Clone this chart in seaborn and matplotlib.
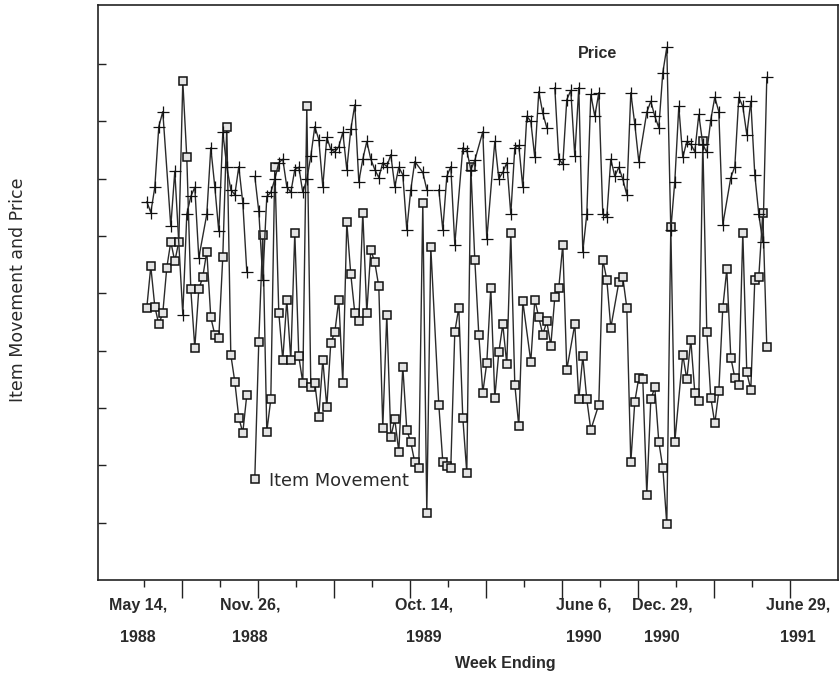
import numpy as np
import pandas as pd
import matplotlib
matplotlib.use("Agg")
import matplotlib.pyplot as plt
import seaborn as sns

# ---------------- data (weekly, week 0 = May 14, 1988) ----------------
item_weeks = (list(range(0, 72)) + list(range(73, 95)) + list(range(96, 106)) +
              list(range(107, 112)) + list(range(113, 117)) + list(range(118, 133)) +
              list(range(134, 156)))
item_values = [
    4.75, 5.47, 4.77, 4.46, 4.66, 5.45, 5.90, 5.56, 5.90, 8.70,
    7.37, 5.07, 4.05, 5.07, 5.29, 5.73, 4.58, 4.28, 4.23, 5.64,
    7.91, 3.93, 3.46, 2.83, 2.57, 3.23, np.nan,
    1.77, 4.16, 6.01, 2.59, 3.15, 7.21, 4.66, 3.84, 4.89, 3.84,
    6.06, 3.90, 3.44, 8.26, 3.37, 3.44, 2.85, 3.84, 3.02, 4.14,
    4.32, 4.89, 3.44, 6.24, 5.33, 4.66, 4.51, 6.41, 4.66, 5.76,
    5.54, 5.12, 2.66, 4.63, 2.50, 2.80, 2.24, 3.72, 2.62, 2.40,
    2.05, 1.96, 6.58, 1.17, 5.80,
    3.06, 2.06, 1.98, 1.96, 4.33, 4.75, 2.83, 1.87, 7.21, 5.59,
    4.28, 3.27, 3.79, 5.10, 3.18, 3.97, 4.46, 3.76, 6.06, 3.41,
    2.68, 4.86,
    3.81, 4.89, 4.58, 4.28, 4.51, 4.09, 4.93, 5.10, 5.85, 3.67,
    4.46, 3.15, 3.90, 3.15, 2.62,
    3.06, 5.59, 5.24, 4.40,
    5.19, 5.28, 4.75, 2.05, 3.11, 3.53, 3.50, 1.49, 3.15, 3.36,
    2.41, 1.96, 0.97, 6.15, 2.41,
    3.93, 3.50, 4.19, 3.27, 3.13, 7.65, 4.33, 3.18, 2.73, 3.29,
    4.75, 5.42, 3.88, 3.53, 3.41, 6.06, 3.62, 3.32, 5.24, 5.29,
    6.41, 4.07,
]

price_weeks = [
    0, 1, 2, 3, 4, 6, 7, 9, 10, 11, 12, 13, 15, 16, 17, 18, 19, 20, 21, 22,
    23, 24, 25, 26, 27, 28, 29, 30, 31, 32, 33, 34, 35, 36, 37, 38, 39, 40,
    41, 42, 43, 44, 45, 46, 47, 48, 49, 50, 51, 52, 53, 54, 55, 56, 57, 58,
    59, 60, 61, 62, 63, 64, 65, 66, 67, 69, 70, 71, 73, 74, 75, 76, 77, 79,
    80, 81, 82, 84, 85, 87, 88, 89, 90, 91, 92, 93, 94, 95, 96, 97, 98, 99,
    100, 101, 102, 103, 104, 105, 106, 107, 108, 109, 110, 111, 112, 113,
    114, 115, 116, 117, 118, 119, 120, 121, 122, 123, 125, 126, 127, 128,
    129, 130, 131, 132, 133, 134, 135, 136, 137, 138, 139, 140, 141, 142,
    143, 144, 146, 147, 148, 149, 150, 151, 152, 153, 154, 155,
]
price_values = [
    6.60, 6.41, 6.85, 7.91, 8.17, 6.17, 7.13, 4.63, 6.38, 6.69, 6.85, 5.62,
    6.38, 7.54, 6.86, 6.08, 7.81, 7.21, 6.81, 6.72, 7.21, 6.58, 5.38, np.nan,
    7.04, 6.43, 5.24, 6.69, 6.76, 6.99, 7.28, 7.34, 6.86, 6.76, 7.16, 7.20,
    6.76, 6.99, 7.39, 7.91, 7.68, 6.86, 7.72, 7.51, 7.47, 7.56, 7.81, 7.16,
    7.86, 8.29, 6.95, 7.34, 7.65, 7.34, 7.16, 7.02, 7.28, 7.21, 7.42, 6.86,
    7.20, 7.07, 6.11, 6.81, 7.30, 7.11, 6.81, np.nan, 6.81, 6.11, 7.04, 7.21,
    5.85, 7.54, 7.49, 7.16, 7.32, 7.82, 5.94, 7.65, 7.00, 7.11, 7.28, 6.38,
    7.54, 7.58, 6.85, 8.09, 8.00, 7.37, 8.52, 8.14, 7.89, np.nan, 8.59, 7.35,
    7.25, 8.38, 8.54, 7.39, 8.59, 5.73, 6.38, 8.47, 8.09, 8.50, 6.38, 6.34,
    7.34, 7.04, 7.20, 6.99, 6.72, 8.50, 7.95, 7.30, 8.16, 8.35, 8.09, 7.89,
    8.85, 9.29, 6.11, 6.95, 8.26, 7.37, 7.65, 7.60, 7.47, 8.12, 7.60, 7.46,
    8.03, 8.42, 8.17, 6.20, 7.02, 7.21, 8.42, 8.26, 7.77, 8.35, 7.07, 6.38,
    5.89, 8.77,
]

date_labels = ["May 14,", "Nov. 26,", "Oct. 14,", "June 6,", "Dec. 29,", "June 29,"]
year_labels = ["1988", "1988", "1989", "1990", "1990", "1991"]
label_weeks = [-2.2, 25.8, 69.3, 109.3, 128.8, 162.8]


def to_frame(weeks, values):
    df = pd.DataFrame({"week": weeks, "value": values})
    df["seg"] = df["value"].isna().cumsum()
    return df.dropna()


item_df = to_frame(item_weeks, item_values)
price_df = to_frame(price_weeks, price_values)

# ---------------- figure ----------------
sns.set_style("white")
plt.rcParams["font.family"] = ["Liberation Sans", "DejaVu Sans"]

W, H = 839, 678
fig = plt.figure(figsize=(W / 100, H / 100), dpi=100)
ax = fig.add_axes([98 / W, (H - 580) / H, 740 / W, 575 / H])

ink = "#2a2a2a"
sns.lineplot(data=item_df, x="week", y="value", units="seg", estimator=None,
             ax=ax, color=ink, lw=1.0, marker="s", markersize=6,
             markerfacecolor="#e4e4e4", markeredgecolor="#111111",
             markeredgewidth=1.1, sort=False)
sns.lineplot(data=price_df, x="week", y="value", units="seg", estimator=None,
             ax=ax, color=ink, lw=1.0, marker="+", markersize=8,
             markeredgecolor="#111111", markeredgewidth=0.9, sort=False)

ax.set_xlim(-12.2, 172.8)
ax.set_ylim(0, 10.03)

for s in ax.spines.values():
    s.set_color("#222222")
    s.set_linewidth(1.2)

ticks = np.arange(18) * 9.5 - 0.7
ax.set_xticks(ticks[1::2])
ax.set_xticks(ticks[0::2], minor=True)
ax.tick_params(axis="x", which="major", direction="out", length=13, width=1.0,
               color="#222222", labelbottom=False, bottom=True)
ax.tick_params(axis="x", which="minor", direction="out", length=5, width=1.0,
               color="#222222", bottom=True)
ax.set_yticks(np.arange(1, 10))
ax.tick_params(axis="y", which="major", direction="in", length=6, width=1.0,
               color="#222222", labelleft=False, left=True)
ax.set_xlabel("")
ax.set_ylabel("")

tr = ax.get_xaxis_transform()
for d, yl, xw in zip(date_labels, year_labels, label_weeks):
    ax.text(xw, -0.0435, d, transform=tr, ha="center", va="center",
            fontsize=11.5, fontweight="bold", color=ink)
    ax.text(xw, -0.1, yl, transform=tr, ha="center", va="center",
            fontsize=11.5, fontweight="bold", color=ink)
ax.text(89.6, -0.146, "Week Ending", transform=tr, ha="center", va="center",
        fontsize=11.5, fontweight="bold", color=ink)

fig.text(18 / W, 1 - 290 / H, "Item Movement and Price", rotation=90,
         ha="center", va="center", fontsize=12.5, color=ink,
         family=["DejaVu Sans"])

ax.text(112.6, 9.18, "Price", ha="center", va="center", fontsize=11.5,
        fontweight="bold", color=ink)
ax.text(48.0, 1.72, "Item Movement", ha="center", va="center", fontsize=12.8,
        color=ink, family=["DejaVu Sans"])

fig.savefig("out.png", dpi=100, facecolor="white")
